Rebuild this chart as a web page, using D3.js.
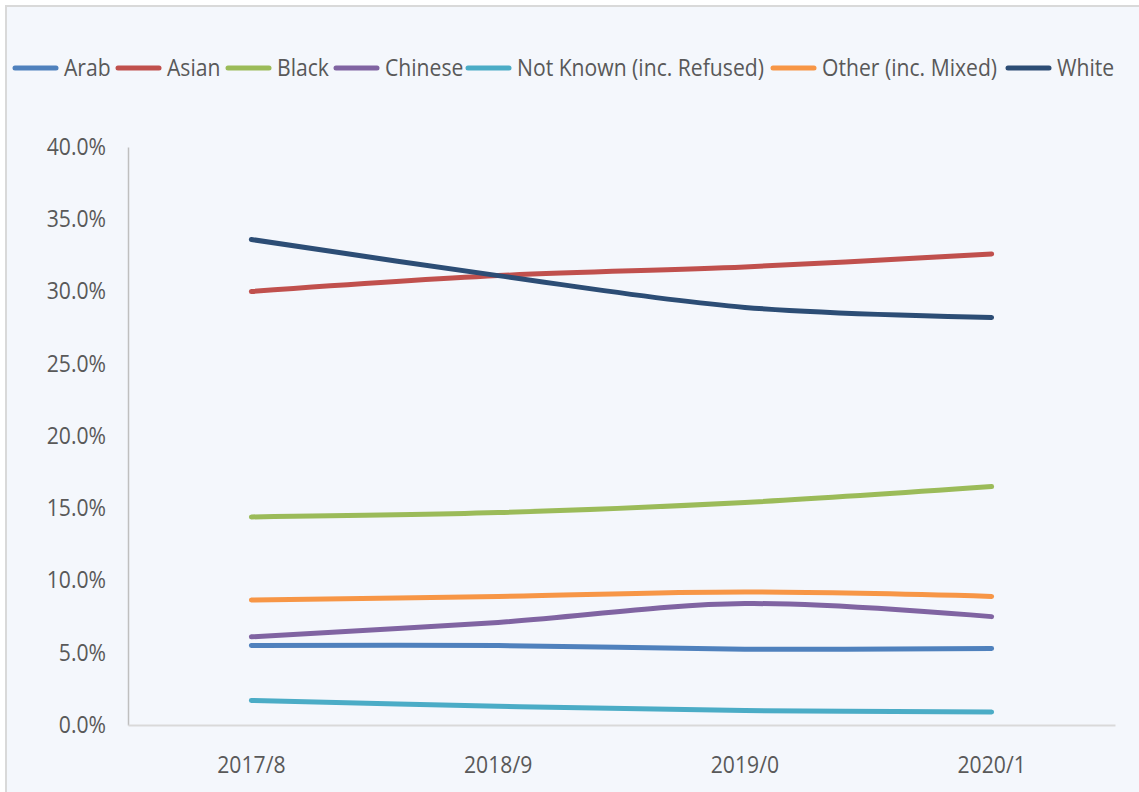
<!DOCTYPE html>
<html>
<head>
<meta charset="utf-8">
<script src="https://cdn.jsdelivr.net/npm/d3@7"></script>
<style>
  html, body { margin: 0; padding: 0; background: #ffffff; }
  svg { display: block; }
  text { font-family: "Open Sans", "Noto Sans", sans-serif; fill: #595959; }
</style>
</head>
<body>
<svg id="chart" width="1139" height="792"></svg>
<script>
// Academic years shown along the x axis
const years = ["2017/8", "2018/9", "2019/0", "2020/1"];

// Share of each ethnic group per year (percent)
const arab     = [5.5, 5.5, 5.25, 5.3];
const asian    = [30.0, 31.1, 31.7, 32.6];
const black    = [14.4, 14.7, 15.4, 16.5];
const chinese  = [6.1, 7.1, 8.4, 7.5];
const notKnown = [1.7, 1.3, 1.0, 0.9];
const other    = [8.65, 8.9, 9.2, 8.9];
const white    = [33.6, 31.1, 28.9, 28.2];

const seriesNames  = ["Arab", "Asian", "Black", "Chinese", "Not Known (inc. Refused)", "Other (inc. Mixed)", "White"];
const seriesValues = [arab, asian, black, chinese, notKnown, other, white];
const seriesColors = ["#4F81BD", "#C0504D", "#9BBB59", "#8064A2", "#4BACC6", "#F79646", "#2C4D75"];

// Y axis ticks
const yTicks = [0, 5, 10, 15, 20, 25, 30, 35, 40];

const W = 1139, H = 792;
const FONT = "23px";
const SQUEEZE = 0.92;   // narrow the text a little, like a condensed face
const svg = d3.select("#chart");

// chart area background and frame
svg.append("rect").attr("x", 6).attr("y", 6).attr("width", W).attr("height", H)
  .attr("fill", "#F4F7FC").attr("stroke", "#D9D9D9").attr("stroke-width", 2);

const plot = { left: 128, right: 1115, top: 147, bottom: 725 };

const x = d3.scaleBand().domain(years).range([plot.left, plot.right]);
const y = d3.scaleLinear().domain([0, 40]).range([plot.bottom, plot.top]);

// Y axis
const yAxis = svg.append("g").attr("transform", `translate(${plot.left},0)`)
  .call(d3.axisLeft(y).tickValues(yTicks).tickSize(0).tickPadding(22)
    .tickFormat(d => d.toFixed(1) + "%"));
yAxis.select(".domain").attr("stroke", "#BFBFBF").attr("stroke-width", 1.5);
yAxis.selectAll("text").style("font-size", FONT).attr("fill", "#595959")
  .attr("x", -22 / SQUEEZE).attr("transform", `scale(${SQUEEZE},1)`);

// X axis
const xAxis = svg.append("g").attr("transform", `translate(0,${plot.bottom})`)
  .call(d3.axisBottom(x).tickSize(0).tickPadding(32));
xAxis.select(".domain").attr("stroke", "#D9D9D9").attr("stroke-width", 2);
xAxis.selectAll("text").style("font-size", FONT).attr("fill", "#595959")
  .attr("transform", `scale(${SQUEEZE},1)`);

// Smoothed series lines
const line = d3.line()
  .x((d, i) => x(years[i]) + x.bandwidth() / 2)
  .y(d => y(d))
  .curve(d3.curveCatmullRom.alpha(0.5));

svg.append("g").selectAll("path")
  .data(seriesValues)
  .join("path")
  .attr("d", d => line(d))
  .attr("fill", "none")
  .attr("stroke", (d, i) => seriesColors[i])
  .attr("stroke-width", 5)
  .attr("stroke-linecap", "round")
  .attr("stroke-linejoin", "round");

// Legend across the top
const legendX = [15, 118, 228, 336, 468, 773, 1008];
const legend = svg.append("g").attr("transform", "translate(0,68)");
const items = legend.selectAll("g").data(seriesNames).join("g")
  .attr("transform", (d, i) => `translate(${legendX[i]},0)`);
items.append("line").attr("x1", 0).attr("x2", 41).attr("y1", 0).attr("y2", 0)
  .attr("stroke", (d, i) => seriesColors[i]).attr("stroke-width", 5)
  .attr("stroke-linecap", "round");
items.append("text").attr("x", 49 / SQUEEZE).attr("y", 0).attr("dy", "0.35em")
  .attr("transform", `scale(${SQUEEZE},1)`)
  .style("font-size", FONT).text(d => d);
</script>
</body>
</html>
